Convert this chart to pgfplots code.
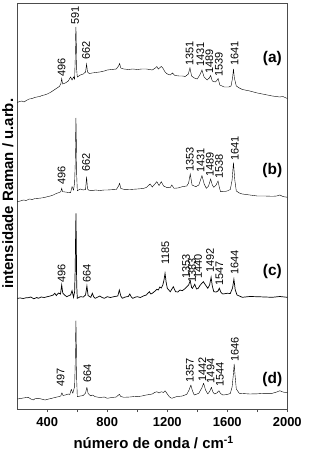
\documentclass[border=0pt]{standalone}
\usepackage{fontspec}
\setmainfont{Liberation Sans}
\usepackage{pgfplots}
\pgfplotsset{compat=1.18}
\newcommand{\pk}[3]{\node[rotate=90,anchor=west,inner sep=0pt,font=\fontsize{11}{11}\selectfont] at (axis cs:#1,#2) {#3};}
\newcommand{\lab}[2]{\node[anchor=center,inner sep=0pt,font=\fontsize{15.5}{15.5}\selectfont\bfseries] at (axis cs:1900,#1) {#2};}
\begin{document}
\begin{tikzpicture}
\begin{axis}[
  scale only axis, width=270bp, height=406bp,
  xmin=200, xmax=2000, ymin=0, ymax=406,
  xtick={400,800,1200,1600,2000},
  minor xtick={600,1000,1400,1800},
  ytick=\empty,
  tick pos=left,
  tick align=outside,
  major tick length=3bp, minor tick length=3bp,
  axis line style={black!70, line width=0.8bp},
  every tick/.style={black!70, line width=0.8bp},
  /pgf/number format/assume math mode=true,
  /pgf/number format/1000 sep={},
  xticklabel style={font=\fontsize{13}{13}\selectfont\bfseries, anchor=base, yshift=-14.7bp},
  xlabel={número de onda / cm\textsuperscript{-1}},
  xlabel style={at={(rel axis cs:0.505,-0.0985)}, anchor=base, inner sep=0pt, font=\fontsize{15}{15}\selectfont\bfseries},
  ylabel={intensidade Raman / u.arb.},
  ylabel style={at={(rel axis cs:-0.014,0.53)}, anchor=south, inner sep=0pt, font=\fontsize{15}{15}\selectfont\bfseries},
  cycle list={{black, mark=none, line width=0.7bp, line join=round}},
]
% (a)
\addplot coordinates {
(200,306.5)(215,307.5)(230,308)(245,307)(260,308.5)(280,310)(300,310.5)(315,311.5)(330,312)(350,312.5)(365,313.5)(380,314)(400,315)(420,316.5)(440,318.5)(460,320.5)(480,322.5)(490,325)(496,330.5)(502,325)(520,326)(540,328)(555,332)(565,329)(575,332)(582,330)(586,349)(589,374)(591,382)(593,369)(596,339)(600,332)(620,334)(640,335)(655,337)(662,345)(668,337)(680,335.5)(700,336)(720,336.5)(750,337)(780,338)(800,339)(830,339.5)(860,340)(875,343)(882,345.5)(890,341)(910,340)(940,339.5)(970,340)(1000,339.5)(1030,340)(1060,340)(1080,339.5)(1100,339)(1120,341)(1130,342.5)(1140,340)(1160,342.5)(1170,341)(1185,337)(1200,335)(1220,334)(1235,336)(1250,333.5)(1280,333)(1300,333)(1320,332.5)(1340,335)(1351,341)(1362,333)(1380,331)(1400,330)(1420,335)(1431,339)(1445,332)(1465,329)(1480,331)(1489,333.5)(1500,328)(1520,327)(1530,328.5)(1539,330.5)(1550,324)(1580,322)(1610,322)(1625,323)(1635,331)(1641,340)(1647,331)(1660,323)(1680,321)(1700,319.5)(1750,318)(1800,316)(1850,314.5)(1900,313)(1950,312)(1970,312.5)(2000,310.5)
};
% (b)
\addplot coordinates {
(200,207.3)(220,208)(240,209)(260,208.5)(280,210)(300,209.5)(320,210.5)(340,210.7)(360,211)(380,211.5)(400,212.3)(420,213)(440,214)(460,215.5)(480,216.5)(490,217.3)(496,220.7)(502,217.3)(520,217)(540,216.5)(555,216.3)(565,222.3)(575,219)(582,226.3)(586,244)(589,274)(591,291)(593,274)(596,234)(600,218.3)(620,220)(640,219)(655,219.5)(662,232.3)(668,220)(680,218.5)(700,218.3)(720,219)(750,218.5)(780,219)(800,219)(830,219.3)(860,219.5)(875,223)(882,225.7)(890,220.5)(910,219.7)(950,219.5)(1000,220)(1040,220.5)(1060,221.5)(1085,225)(1100,222)(1130,227.3)(1145,223.5)(1160,227.3)(1175,223)(1200,221.3)(1220,221.5)(1230,224)(1245,220.7)(1270,221)(1300,222.3)(1330,223)(1342,226)(1353,235)(1365,224)(1390,222.3)(1410,224)(1431,233.3)(1446,225)(1460,220.7)(1475,223)(1489,230)(1500,224)(1510,221.7)(1525,224)(1538,228)(1548,221)(1555,217.3)(1580,217.5)(1600,218)(1620,219.5)(1632,229)(1641,246.3)(1650,229)(1660,218)(1680,216)(1700,215)(1750,214)(1800,213)(1850,213)(1900,212.7)(1930,213)(1950,214)(1970,212.5)(2000,211.7)
};
% (c)
\addplot coordinates {
(200,110.7)(220,111)(240,110.5)(260,111.3)(273,111.3)(290,112)(310,110.2)(330,111.5)(340,110.7)(360,112)(380,111.5)(400,112.3)(420,113)(440,114)(450,115.7)(460,113.5)(475,116)(488,115)(496,124)(503,116)(515,114)(530,112.3)(545,113.5)(555,114)(565,118.3)(575,111.7)(582,117.3)(586,139)(589,174)(591,195.7)(593,169)(596,124)(600,110.7)(620,112.3)(640,112)(655,114)(664,123)(672,113.5)(690,111.7)(700,115.7)(710,112)(720,110.7)(750,113)(765,111.5)(780,110.7)(800,112.3)(820,111.5)(850,112.5)(870,113)(880,119)(890,113)(900,110.7)(920,112)(940,112.5)(950,115)(960,112)(970,110.7)(990,112)(1000,112.3)(1020,111.5)(1040,113)(1060,114)(1080,117.3)(1090,115)(1100,115.7)(1115,117.5)(1130,119.7)(1140,119)(1150,122)(1160,121)(1170,124)(1178,129)(1185,135.7)(1192,127)(1200,120.7)(1210,119)(1220,117.3)(1240,122.3)(1255,117.3)(1270,117)(1285,119)(1300,118.3)(1315,120)(1330,122.3)(1342,124)(1353,128.3)(1362,121.5)(1368,120.7)(1383,124.7)(1395,120)(1405,120.5)(1420,124)(1440,127.3)(1455,124)(1470,120.7)(1482,124)(1492,131.7)(1500,123)(1510,117.3)(1525,117)(1538,118)(1547,120.7)(1558,116.5)(1570,115)(1600,115.7)(1620,115.5)(1635,121)(1644,129.7)(1653,119)(1665,114)(1680,113)(1700,111.7)(1750,112.5)(1800,112.3)(1850,112)(1900,111.7)(1950,112.5)(2000,111.7)
};
% (d)
\addplot coordinates {
(200,10)(220,10.5)(240,11)(260,11.5)(273,11.7)(290,10)(307,9)(320,10.5)(340,10.7)(360,10)(385,9)(410,10)(430,10.7)(450,11.5)(475,12.3)(490,13)(497,16.3)(505,13.5)(520,14)(540,15)(550,14.5)(560,19.7)(570,15.7)(582,22.3)(586,44)(589,74)(591,88.3)(593,69)(596,29)(600,12.3)(620,13)(640,13.5)(655,16)(664,21.7)(672,15.5)(690,13)(700,14)(720,12.3)(750,11.5)(780,12)(800,10.7)(830,11.5)(860,12)(880,14.7)(890,12.5)(910,11.7)(950,12)(980,12.5)(1000,12.3)(1030,13)(1060,14)(1080,14.5)(1100,15)(1115,16.5)(1130,17.3)(1145,16)(1160,17.3)(1175,16.5)(1185,18.3)(1200,15)(1215,12)(1230,10.7)(1260,12.3)(1300,13)(1330,14.7)(1345,19)(1357,24)(1368,18)(1380,14)(1410,15.7)(1430,21)(1442,25.7)(1455,19)(1470,15)(1484,18)(1494,21.7)(1504,17)(1515,15)(1530,16)(1544,18.3)(1555,15.5)(1570,14)(1600,14.5)(1620,15.5)(1632,22)(1640,34)(1646,45)(1652,33)(1660,20)(1680,15.7)(1700,15.5)(1750,15)(1800,15.2)(1850,15.7)(1900,15.7)(1930,17)(1950,18.3)(1970,17)(2000,16.3)
};
% peak labels (a)
\pk{496}{332}{496}
\pk{585}{384}{591}
\pk{658}{349}{662}
\pk{1349}{343}{1351}
\pk{1420}{342}{1431}
\pk{1480}{335}{1489}
\pk{1543}{332}{1539}
\pk{1649}{343}{1641}
% (b)
\pk{496}{224}{496}
\pk{658}{237}{662}
\pk{1351}{237}{1353}
\pk{1422}{236}{1431}
\pk{1483}{232}{1489}
\pk{1545}{230.5}{1538}
\pk{1650}{248}{1641}
% (c)
\pk{496}{126}{496}
\pk{664}{126}{664}
\pk{1187}{144}{1185}
\pk{1325}{130}{1353}
\pk{1365}{126.5}{1383}
\pk{1405}{130}{1440}
\pk{1485}{136.5}{1492}
\pk{1548}{123}{1547}
\pk{1648}{134}{1644}
% (d)
\pk{489}{22.3}{497}
\pk{667}{26}{664}
\pk{1351}{26}{1357}
\pk{1434}{27.3}{1442}
\pk{1489}{25.7}{1494}
\pk{1551}{22.3}{1544}
\pk{1651}{47.3}{1646}
% panel letters
\lab{350}{(a)}
\lab{238}{(b)}
\lab{137}{(c)}
\lab{29}{(d)}
\end{axis}
\path ([xshift=-17.3bp,yshift=-49bp]current axis.south west) rectangle ([xshift=22bp,yshift=3bp]current axis.north east);
\end{tikzpicture}
\end{document}
